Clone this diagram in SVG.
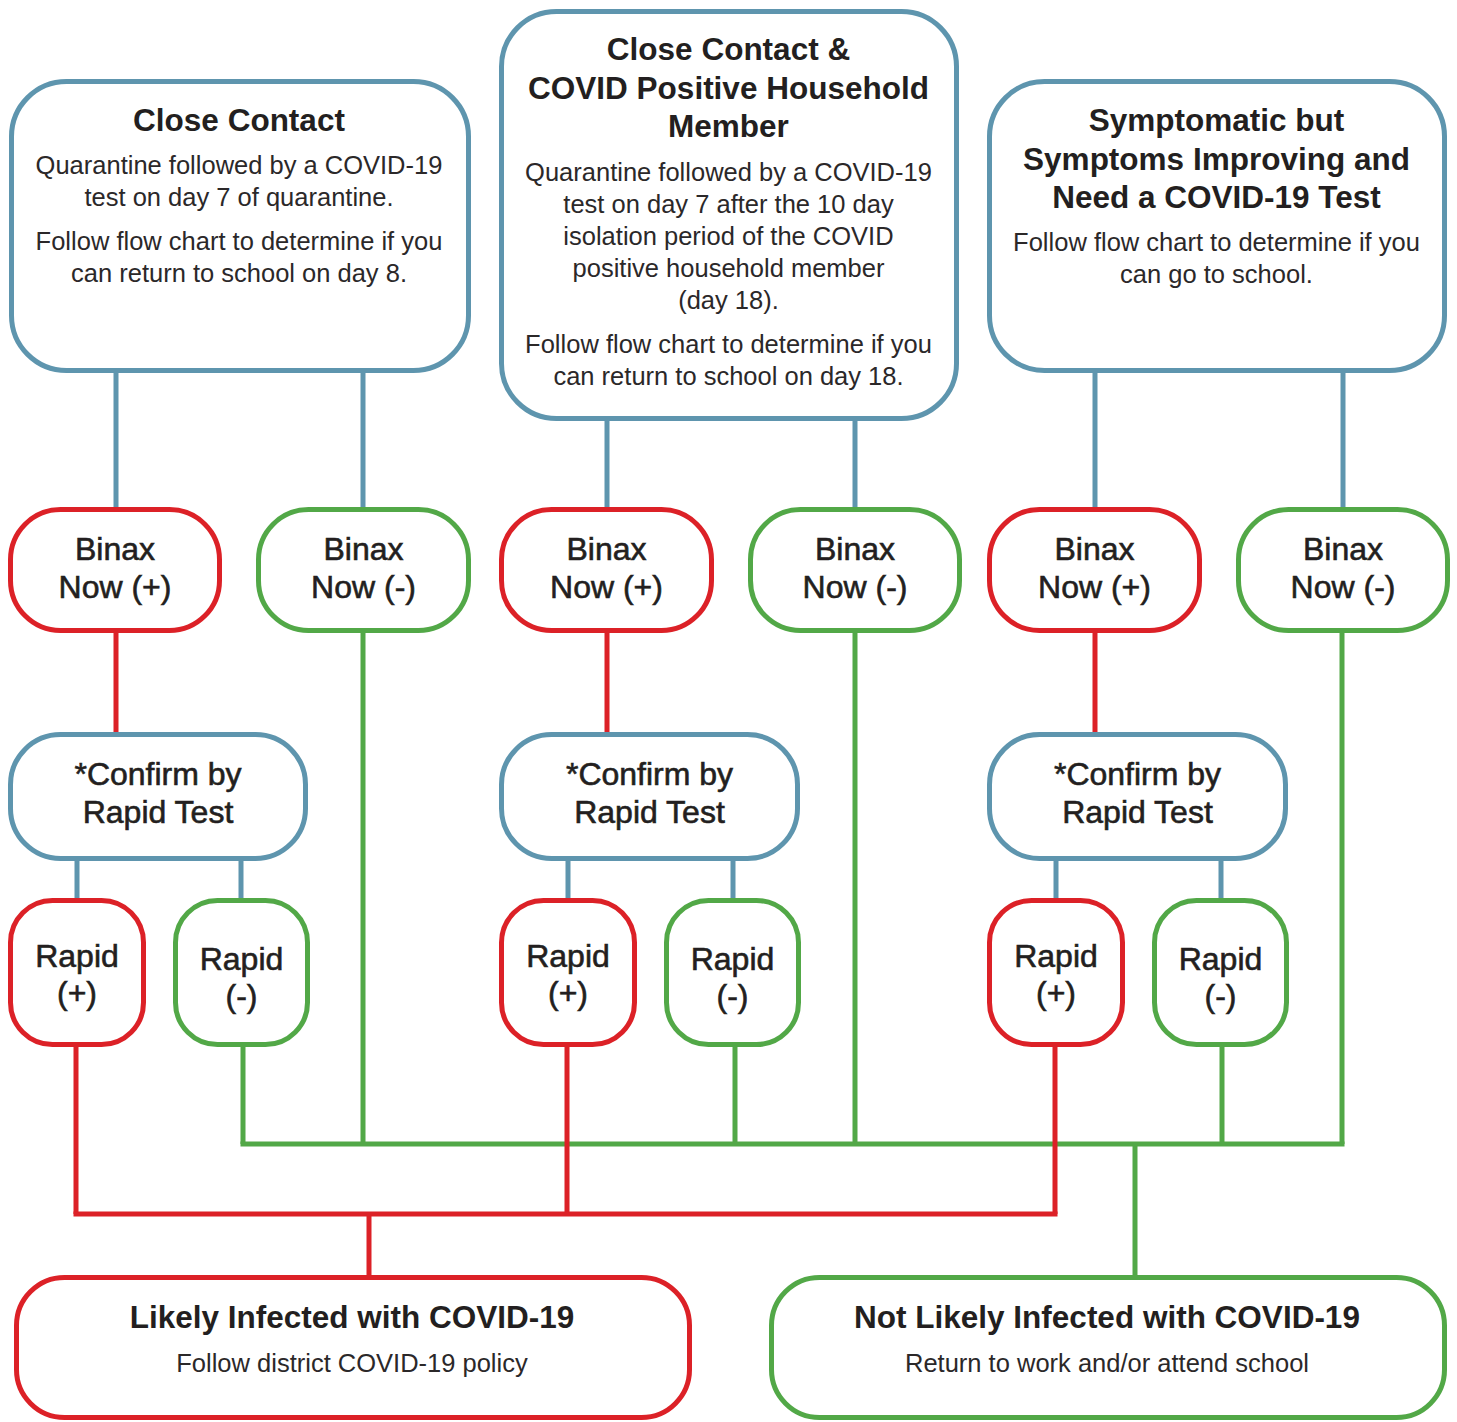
<svg xmlns="http://www.w3.org/2000/svg" width="1457" height="1422" viewBox="0 0 1457 1422">
<style>
.box{fill:#fff;stroke-width:5}
.b{stroke:#5E95AE}
.r{stroke:#DC2127}
.g{stroke:#52A847}
.ln{fill:none;stroke-width:5;stroke-linecap:butt}
text{font-family:"Liberation Sans",Arial,sans-serif;fill:#231F20;text-anchor:middle}
.t{font-size:31.5px;font-weight:bold}
.s{font-size:25.5px;fill:#2b2829}
.m{font-size:32px;stroke:#231F20;stroke-width:0.6}
</style>
<rect width="1457" height="1422" fill="#fff"/>
<g id="connectors">
  <g class="ln b">
    <path d="M116 371V510M363 371V510M607 419V510M855 419V510M1095 371V510M1343 371V510"/>
    <path d="M77 859V901M241 859V901M568 859V901M733 859V901M1056 859V901M1221 859V901"/>
  </g>
  <g class="ln g">
    <path d="M243 1045V1144M363 631V1144M735 1045V1144M855 631V1144M1222 1045V1144M1342 631V1144"/>
    <path d="M240.5 1144H1344.5"/>
    <path d="M1135 1144V1279"/>
  </g>
  <g class="ln r">
    <path d="M116 631V736M607 631V736M1095 631V736"/>
    <path d="M76 1045V1214M567 1045V1214M1055 1045V1214"/>
    <path d="M73.5 1214H1057.5"/>
    <path d="M369 1214V1279"/>
  </g>
</g>
<g id="close-contact">
  <rect class="box b" x="11.5" y="81.5" width="457" height="289" rx="55"/>
  <text class="t" x="239" y="131">Close Contact</text>
  <text class="s" x="239" y="174">Quarantine followed by a COVID-19</text>
  <text class="s" x="239" y="206">test on day 7 of quarantine.</text>
  <text class="s" x="239" y="250">Follow flow chart to determine if you</text>
  <text class="s" x="239" y="282">can return to school on day 8.</text>
</g>
<g id="household">
  <rect class="box b" x="501.5" y="11.5" width="455" height="407" rx="55"/>
  <text class="t" x="728.5" y="60">Close Contact &amp;</text>
  <text class="t" x="728.5" y="99">COVID Positive Household</text>
  <text class="t" x="728.5" y="137">Member</text>
  <text class="s" x="728.5" y="181">Quarantine followed by a COVID-19</text>
  <text class="s" x="728.5" y="213">test on day 7 after the 10 day</text>
  <text class="s" x="728.5" y="245">isolation period of the COVID</text>
  <text class="s" x="728.5" y="277">positive household member</text>
  <text class="s" x="728.5" y="309">(day 18).</text>
  <text class="s" x="728.5" y="353">Follow flow chart to determine if you</text>
  <text class="s" x="728.5" y="385">can return to school on day 18.</text>
</g>
<g id="symptomatic">
  <rect class="box b" x="989.5" y="81.5" width="455" height="289" rx="55"/>
  <text class="t" x="1216.5" y="131">Symptomatic but</text>
  <text class="t" x="1216.5" y="170">Symptoms Improving and</text>
  <text class="t" x="1216.5" y="208">Need a COVID-19 Test</text>
  <text class="s" x="1216.5" y="251">Follow flow chart to determine if you</text>
  <text class="s" x="1216.5" y="283">can go to school.</text>
</g>
<g id="binax-pos-1"><rect class="box r" x="10.5" y="509.5" width="209" height="121" rx="50"/><text class="m" x="115" y="560">Binax</text><text class="m" x="115" y="598">Now (+)</text></g>
<g id="binax-neg-1"><rect class="box g" x="258.5" y="509.5" width="210" height="121" rx="50"/><text class="m" x="363.5" y="560">Binax</text><text class="m" x="363.5" y="598">Now (-)</text></g>
<g id="binax-pos-2"><rect class="box r" x="501.5" y="509.5" width="210" height="121" rx="50"/><text class="m" x="606.5" y="560">Binax</text><text class="m" x="606.5" y="598">Now (+)</text></g>
<g id="binax-neg-2"><rect class="box g" x="750.5" y="509.5" width="209" height="121" rx="50"/><text class="m" x="855" y="560">Binax</text><text class="m" x="855" y="598">Now (-)</text></g>
<g id="binax-pos-3"><rect class="box r" x="989.5" y="509.5" width="210" height="121" rx="50"/><text class="m" x="1094.5" y="560">Binax</text><text class="m" x="1094.5" y="598">Now (+)</text></g>
<g id="binax-neg-3"><rect class="box g" x="1238.5" y="509.5" width="209" height="121" rx="50"/><text class="m" x="1343" y="560">Binax</text><text class="m" x="1343" y="598">Now (-)</text></g>
<g id="confirm-1"><rect class="box b" x="10.5" y="734.5" width="295" height="124" rx="50"/><text class="m" x="158" y="785">*Confirm by</text><text class="m" x="158" y="823">Rapid Test</text></g>
<g id="confirm-2"><rect class="box b" x="501.5" y="734.5" width="296" height="124" rx="50"/><text class="m" x="649.5" y="785">*Confirm by</text><text class="m" x="649.5" y="823">Rapid Test</text></g>
<g id="confirm-3"><rect class="box b" x="989.5" y="734.5" width="296" height="124" rx="50"/><text class="m" x="1137.5" y="785">*Confirm by</text><text class="m" x="1137.5" y="823">Rapid Test</text></g>
<g id="rapid-pos-1"><rect class="box r" x="10.5" y="900.5" width="133" height="144" rx="42"/><text class="m" x="77" y="967">Rapid</text><text class="m" x="77" y="1004">(+)</text></g>
<g id="rapid-neg-1"><rect class="box g" x="175.5" y="900.5" width="132" height="144" rx="42"/><text class="m" x="241.5" y="970">Rapid</text><text class="m" x="241.5" y="1007">(-)</text></g>
<g id="rapid-pos-2"><rect class="box r" x="501.5" y="900.5" width="133" height="144" rx="42"/><text class="m" x="568" y="967">Rapid</text><text class="m" x="568" y="1004">(+)</text></g>
<g id="rapid-neg-2"><rect class="box g" x="666.5" y="900.5" width="132" height="144" rx="42"/><text class="m" x="732.5" y="970">Rapid</text><text class="m" x="732.5" y="1007">(-)</text></g>
<g id="rapid-pos-3"><rect class="box r" x="989.5" y="900.5" width="133" height="144" rx="42"/><text class="m" x="1056" y="967">Rapid</text><text class="m" x="1056" y="1004">(+)</text></g>
<g id="rapid-neg-3"><rect class="box g" x="1154.5" y="900.5" width="132" height="144" rx="42"/><text class="m" x="1220.5" y="970">Rapid</text><text class="m" x="1220.5" y="1007">(-)</text></g>
<g id="likely-infected"><rect class="box r" x="16.5" y="1277.5" width="673" height="140" rx="48"/><text class="t" x="352" y="1328">Likely Infected with COVID-19</text><text class="s" x="352" y="1372">Follow district COVID-19 policy</text></g>
<g id="not-likely-infected"><rect class="box g" x="771.5" y="1277.5" width="673" height="140" rx="48"/><text class="t" x="1107" y="1328">Not Likely Infected with COVID-19</text><text class="s" x="1107" y="1372">Return to work and/or attend school</text></g>
</svg>
